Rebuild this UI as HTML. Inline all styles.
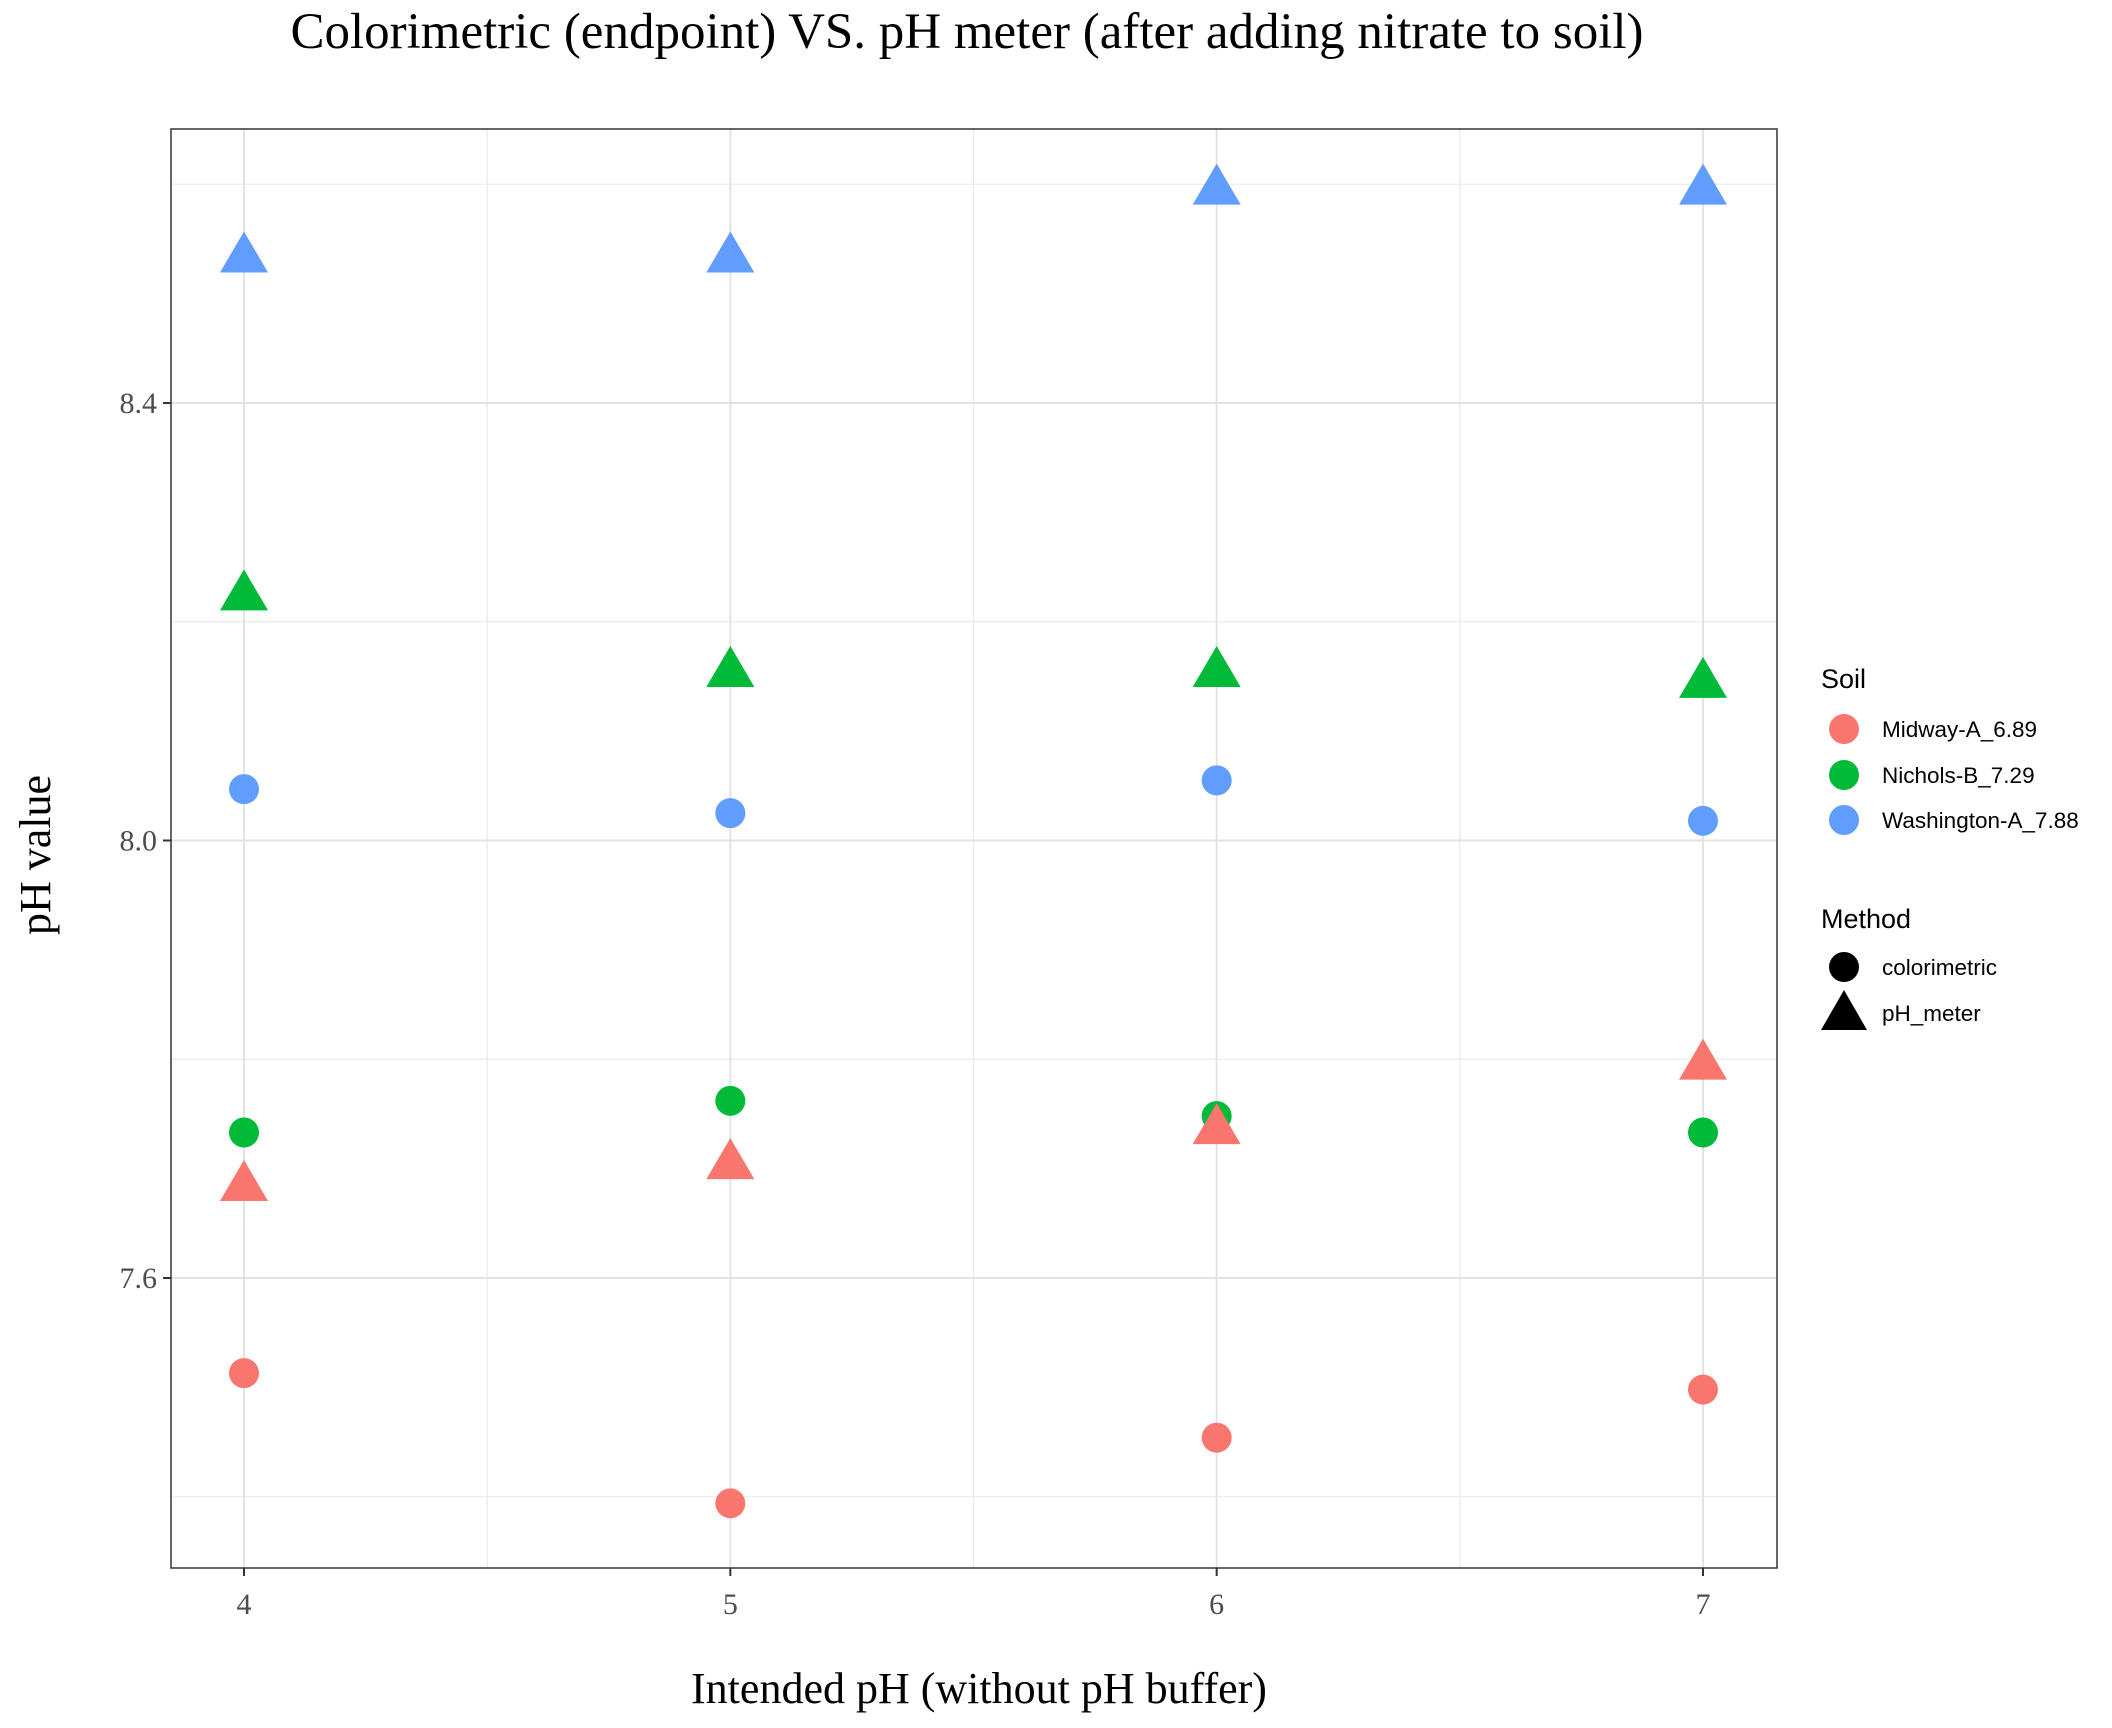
<!DOCTYPE html>
<html><head><meta charset="utf-8"><style>
body{margin:0;background:#fff}
svg{display:block}
.serif{font-family:"Liberation Serif",serif}
.sans{font-family:"Liberation Sans",sans-serif}
</style></head><body>
<svg id="chart" width="2112" height="1728" viewBox="0 0 2112 1728">
<rect width="2112" height="1728" fill="#fff"/>
<g id="grid"></g>
<g id="pts"></g>
<rect x="171" y="129" width="1606" height="1439" fill="none" stroke="#333" stroke-width="1.5"/>
<g id="ticks"></g>
<text x="967" y="48" text-anchor="middle" class="serif" font-size="51">Colorimetric (endpoint) VS. pH meter (after adding nitrate to soil)</text>
<text x="979" y="1703" text-anchor="middle" class="serif" font-size="44">Intended pH (without pH buffer)</text>
<text transform="translate(50,855) rotate(-90)" text-anchor="middle" class="serif" font-size="44">pH value</text>
<g>
<text x="1821" y="688" class="sans" font-size="27">Soil</text>
<circle cx="1844" cy="729" r="15" fill="#F8766D"/>
<text x="1882" y="737" class="sans" font-size="22.5">Midway-A_6.89</text>
<circle cx="1844" cy="775" r="15" fill="#00BA38"/>
<text x="1882" y="783" class="sans" font-size="22.5">Nichols-B_7.29</text>
<circle cx="1844" cy="820" r="15" fill="#619CFF"/>
<text x="1882" y="828" class="sans" font-size="22.5">Washington-A_7.88</text>
<text x="1821" y="928" class="sans" font-size="27">Method</text>
<circle cx="1844" cy="967" r="15" fill="#000"/>
<text x="1882" y="975" class="sans" font-size="22.5">colorimetric</text>
<polygon points="1844,990 1867,1030 1821,1030" fill="#000"/>
<text x="1882" y="1021" class="sans" font-size="22.5">pH_meter</text>
</g>
</svg>
<script>
const xCats=[4,5,6,7];
const yTicks=[7.6,8.0,8.4];
const yTickLabels=["7.6","8.0","8.4"];
const yMinor=[7.4,7.8,8.2,8.6];
const xMinor=[4.5,5.5,6.5];
const midwayColor=[7.513,7.394,7.454,7.498];
const midwayMeter=[7.685,7.705,7.737,7.796];
const nicholsColor=[7.733,7.762,7.748,7.733];
const nicholsMeter=[8.225,8.155,8.155,8.145];
const washColor=[8.047,8.025,8.055,8.018];
const washMeter=[8.534,8.534,8.596,8.596];
const ns="http://www.w3.org/2000/svg";
function X(v){return 244+(v-4)*(1703-244)/3;}
function Y(v){return 840.5-(v-8.0)*1093.75;}
const grid=document.getElementById('grid'),pts=document.getElementById('pts'),tk=document.getElementById('ticks');
function mk(tag,at,parent){const e=document.createElementNS(ns,tag);for(const k in at)e.setAttribute(k,at[k]);parent.appendChild(e);return e;}
yMinor.forEach(v=>{const l=mk('line',{x1:171,x2:1777,y1:Y(v),y2:Y(v),stroke:'#ebebeb','stroke-width':1.3},grid);

});
xMinor.forEach(v=>{const l=mk('line',{y1:129,y2:1568,x1:X(v),x2:X(v),stroke:'#ebebeb','stroke-width':1.3},grid);

});
yTicks.forEach((v,i)=>{const l=mk('line',{x1:171,x2:1777,y1:Y(v),y2:Y(v),stroke:'#e3e3e3','stroke-width':2},grid);


const t=mk('line',{x1:163,x2:171,y1:Y(v),y2:Y(v),stroke:'#333','stroke-width':2},tk);


const tx=mk('text',{x:157,y:Y(v)+10,'text-anchor':'end','font-size':30,fill:'#4d4d4d','class':'serif'},tk);tx.textContent=yTickLabels[i];

});
xCats.forEach(v=>{const l=mk('line',{y1:129,y2:1568,x1:X(v),x2:X(v),stroke:'#e3e3e3','stroke-width':2},grid);


const t=mk('line',{y1:1568,y2:1576,x1:X(v),x2:X(v),stroke:'#333','stroke-width':2},tk);


const tx=mk('text',{x:X(v),y:1614,'text-anchor':'middle','font-size':30,fill:'#4d4d4d','class':'serif'},tk);tx.textContent=String(v);

});
function circles(arr,col,name){arr.forEach((v,i)=>{const c=mk('circle',{cx:X(xCats[i]),cy:Y(v),r:15,fill:col},pts);

});}
function tris(arr,col,name){arr.forEach((v,i)=>{const x=X(xCats[i]),y=Y(v);const p=mk('polygon',{points:`${x},${y-25} ${x+24},${y+16} ${x-24},${y+16}`,fill:col},pts);

});}
circles(washColor,'#619CFF','washington-colorimetric-point');
tris(washMeter,'#619CFF','washington-ph-meter-point');
tris(nicholsMeter,'#00BA38','nichols-ph-meter-point');
circles(midwayColor,'#F8766D','midway-colorimetric-point');
circles(nicholsColor,'#00BA38','nichols-colorimetric-point');
tris(midwayMeter,'#F8766D','midway-ph-meter-point');
</script>
</body></html>
